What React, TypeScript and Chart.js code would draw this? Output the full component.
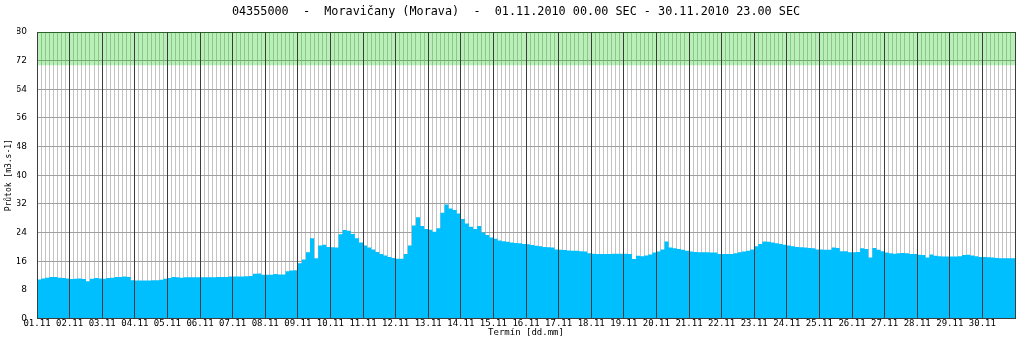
import { useEffect, useRef } from 'react';
import { Chart, registerables } from 'chart.js';

Chart.register(...registerables);

const chartTitle = '04355000  -  Moravičany (Morava)  -  01.11.2010 00.00 SEC - 30.11.2010 23.00 SEC';
const yTitle = 'Průtok [m3.s-1]';
const xTitle = 'Termín [dd.mm]';

const dayLabels = [
  '01.11', '02.11', '03.11', '04.11', '05.11', '06.11', '07.11', '08.11', '09.11', '10.11',
  '11.11', '12.11', '13.11', '14.11', '15.11', '16.11', '17.11', '18.11', '19.11', '20.11',
  '21.11', '22.11', '23.11', '24.11', '25.11', '26.11', '27.11', '28.11', '29.11', '30.11',
];
const yTicks = [0, 8, 16, 24, 32, 40, 48, 56, 64, 72, 80];
const stepHours = 3;
const alarmBand = [70.7, 80];

// 3-hourly discharge values (m3/s), 8 per day
const flowNov01to10 = [
  11.2, 10.9, 11.2, 11.4, 11.6, 11.6, 11.4, 11.3,
  11.2, 11.0, 11.1, 11.2, 11.0, 10.4, 11.1, 11.3,
  11.2, 11.1, 11.3, 11.4, 11.6, 11.6, 11.7, 11.6,
  10.7, 10.6, 10.6, 10.6, 10.6, 10.7, 10.7, 10.8,
  11.1, 11.3, 11.6, 11.5, 11.4, 11.5, 11.5, 11.5,
  11.5, 11.5, 11.5, 11.5, 11.5, 11.6, 11.6, 11.6,
  11.7, 11.7, 11.7, 11.7, 11.8, 11.9, 12.5, 12.6,
  12.2, 12.2, 12.2, 12.4, 12.3, 12.3, 13.2, 13.4,
  13.5, 15.4, 16.5, 18.5, 22.4, 16.8, 20.4, 20.6,
  20.0, 19.9, 19.8, 23.5, 24.7, 24.5, 23.6, 22.4,
];
const flowNov11to20 = [
  21.2, 20.4, 19.8, 19.3, 18.6, 18.0, 17.6, 17.2,
  16.9, 16.7, 16.7, 18.0, 20.4, 26.0, 28.3, 25.8,
  25.0, 24.8, 24.2, 25.2, 29.5, 31.8, 30.7, 30.3,
  29.3, 27.8, 26.5, 25.6, 25.0, 25.8, 24.0, 23.3,
  22.6, 22.3, 21.8, 21.6, 21.4, 21.2, 21.1, 21.0,
  20.8, 20.7, 20.5, 20.3, 20.2, 20.0, 19.9, 19.8,
  19.3, 19.2, 19.1, 19.0, 18.9, 18.9, 18.8, 18.7,
  18.2, 18.1, 18.0, 18.0, 18.0, 18.0, 18.1, 18.1,
  18.1, 18.1, 18.0, 16.6, 17.5, 17.4, 17.6, 17.9,
  18.4, 18.7, 19.3, 21.5, 19.8, 19.6, 19.4, 19.2,
];
const flowNov21to30 = [
  18.9, 18.7, 18.6, 18.5, 18.5, 18.5, 18.4, 18.4,
  18.0, 18.0, 18.0, 18.0, 18.2, 18.5, 18.7, 18.9,
  19.3, 20.2, 20.8, 21.5, 21.4, 21.2, 21.0, 20.8,
  20.6, 20.4, 20.2, 20.0, 19.9, 19.8, 19.7, 19.6,
  19.3, 19.3, 19.2, 19.2, 19.8, 19.7, 18.8, 18.8,
  18.5, 18.5, 18.6, 19.6, 19.4, 17.0, 19.7, 19.2,
  18.8, 18.4, 18.2, 18.1, 18.2, 18.3, 18.2, 18.0,
  18.0, 17.8, 17.7, 17.0, 17.9, 17.5, 17.4, 17.3,
  17.3, 17.3, 17.3, 17.4, 17.7, 17.8, 17.6, 17.4,
  17.2, 17.2, 17.1, 17.0, 16.9, 16.8, 16.8, 16.8,
];

const MONO = 'DejaVu Sans Mono';
const SANS = 'DejaVu Sans';
const DARK = '#3c3c3c';

export default function App() {
  const ref = useRef<HTMLCanvasElement | null>(null);

  useEffect(() => {
    if (!ref.current) return;
    const flow = [...flowNov01to10, ...flowNov11to20, ...flowNov21to30];
    const totalHours = dayLabels.length * 24;
    const points = flow.map((v, i) => ({ x: i * stepHours, y: v }));
    points.push({ x: totalHours, y: flow[flow.length - 1] });

    const chart = new Chart(ref.current, {
      type: 'line',
      data: {
        datasets: [
          {
            label: 'flow',
            data: points,
            stepped: 'after',
            fill: 'origin',
            backgroundColor: '#00bfff',
            borderWidth: 0,
            borderColor: 'rgba(0,0,0,0)',
            pointRadius: 0,
          },
          {
            label: 'band',
            data: [
              { x: 0, y: alarmBand[1] },
              { x: totalHours, y: alarmBand[1] },
            ],
            fill: { value: alarmBand[0] },
            backgroundColor: 'rgba(0,201,0,0.28)',
            borderWidth: 0,
            borderColor: 'rgba(0,0,0,0)',
            pointRadius: 0,
          },
        ],
      },
      options: {
        animation: false,
        responsive: true,
        maintainAspectRatio: false,
        devicePixelRatio: 1,
        layout: { padding: { left: 17, right: 9, top: 0, bottom: 0 } },
        plugins: {
          legend: { display: false },
          tooltip: { enabled: false },
          title: {
            display: true,
            text: chartTitle,
            color: '#000',
            font: { family: MONO, size: 11.8, weight: 'normal' },
            padding: { top: 5, bottom: 12.84 },
          },
        },
        scales: {
          x: {
            type: 'linear',
            position: 'bottom',
            min: 0,
            max: totalHours,
            afterBuildTicks: (s: any) => {
              const t = dayLabels.map((_, i) => ({ value: i * 24 }));
              t.push({ value: totalHours });
              s.ticks = t;
            },
            afterFit: (s: any) => {
              s.height = 19.5;
            },
            ticks: {
              autoSkip: false,
              maxRotation: 0,
              minRotation: 0,
              padding: 0,
              color: '#000',
              font: { family: MONO, size: 9 },
              callback: (v: any) => {
                const i = Math.round(Number(v) / 24);
                return Number(v) % 24 === 0 && dayLabels[i] ? dayLabels[i] : '';
              },
            },
            grid: { color: DARK, lineWidth: 1, drawTicks: false, z: 1 },
            border: { display: true, color: DARK, width: 1, z: 1 },
            title: {
              display: true,
              text: xTitle,
              color: '#000',
              font: { family: MONO, size: 9 },
              padding: 0,
            },
          },
          xm: {
            type: 'linear',
            position: 'bottom',
            min: 0,
            max: totalHours,
            afterBuildTicks: (s: any) => {
              const t = [];
              for (let h = 0; h <= totalHours; h += stepHours) t.push({ value: h });
              s.ticks = t;
            },
            afterFit: (s: any) => {
              s.height = 0;
            },
            ticks: { display: false },
            grid: { color: '#c4c4c4', lineWidth: 1, drawTicks: false },
            border: { display: false },
          },
          y: {
            type: 'linear',
            position: 'left',
            min: 0,
            max: 80,
            afterBuildTicks: (s: any) => {
              s.ticks = yTicks.map((v) => ({ value: v }));
            },
            afterFit: (s: any) => {
              s.width = 20;
            },
            ticks: {
              padding: 10,
              color: '#000',
              font: { family: SANS, size: 9 },
            },
            grid: {
              drawTicks: false,
              lineWidth: 1,
              color: (ctx: any) => (ctx.tick && ctx.tick.value === 80 ? DARK : '#a0a0a0'),
            },
            border: { display: true, color: DARK, width: 1, z: 1 },
            title: {
              display: true,
              text: yTitle,
              color: '#000',
              font: { family: MONO, size: 8 },
              padding: { top: -13.3, bottom: 0 },
            },
          },
        },
      },
    });
    return () => chart.destroy();
  }, []);

  return (
    <div style={{ position: 'fixed', left: 0, top: 0, width: 1024, height: 338, background: '#fff' }}>
      <canvas ref={ref} />
    </div>
  );
}
